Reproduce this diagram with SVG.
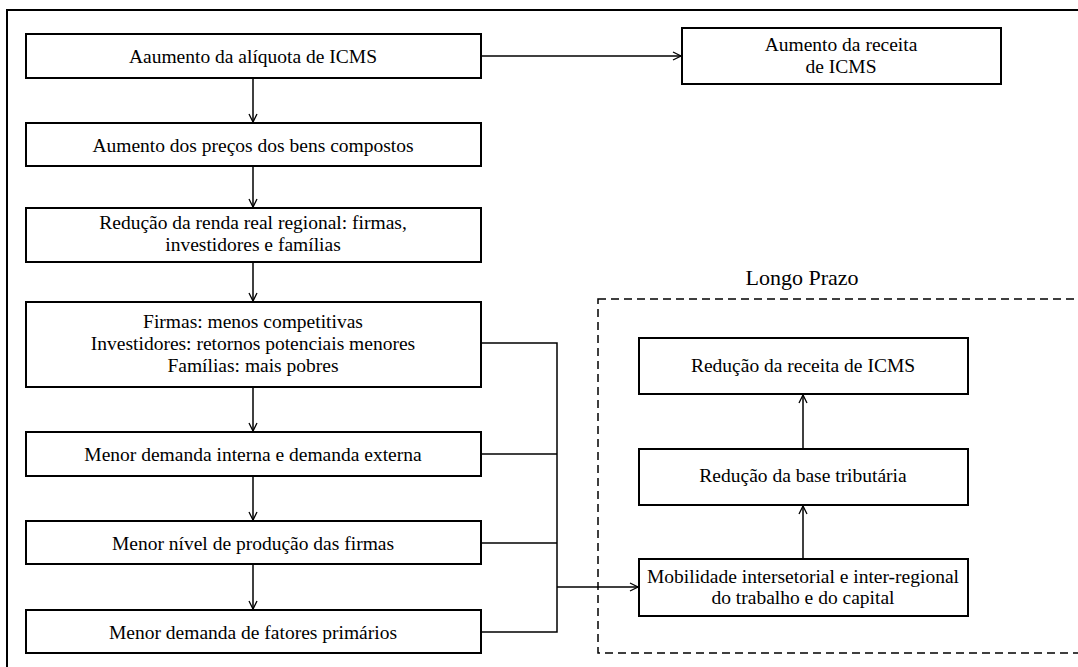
<svg xmlns="http://www.w3.org/2000/svg" width="1078" height="667" viewBox="0 0 1078 667">
<defs>
<marker id="arr" markerWidth="12" markerHeight="12" refX="9" refY="5" orient="auto" markerUnits="userSpaceOnUse">
<path d="M1,1 L9,5 L1,9" fill="none" stroke="#000" stroke-width="1.3"/>
</marker>
<style>
.box{fill:#fff;stroke:#000;stroke-width:2}
.t{font-family:"Liberation Serif","Times New Roman",serif;font-size:19.5px;fill:#000;text-anchor:middle}
.c{fill:none;stroke:#000;stroke-width:1.5}
</style>
</defs>
<rect x="0" y="0" width="1078" height="667" fill="#fff"/>
<rect x="7" y="10" width="1090" height="680" fill="none" stroke="#000" stroke-width="2"/>
<g id="longo-prazo">
<rect x="598" y="299" width="500" height="354" fill="none" stroke="#000" stroke-width="1.5" stroke-dasharray="8,5"/>
<text x="802" y="285" class="t" style="font-size:22px">Longo Prazo</text>
</g>
<g id="connectors">
<line x1="481" y1="56" x2="681" y2="56" class="c" marker-end="url(#arr)"/>
<line x1="253" y1="78" x2="253" y2="122" class="c" marker-end="url(#arr)"/>
<line x1="253" y1="166" x2="253" y2="207" class="c" marker-end="url(#arr)"/>
<line x1="253" y1="262" x2="253" y2="301" class="c" marker-end="url(#arr)"/>
<line x1="253" y1="387" x2="253" y2="431" class="c" marker-end="url(#arr)"/>
<line x1="253" y1="476" x2="253" y2="520" class="c" marker-end="url(#arr)"/>
<line x1="253" y1="564" x2="253" y2="609" class="c" marker-end="url(#arr)"/>
<polyline points="481,343 557,343 557,632 481,632" class="c"/>
<line x1="481" y1="454" x2="557" y2="454" class="c"/>
<line x1="481" y1="543" x2="557" y2="543" class="c"/>
<line x1="557" y1="587" x2="638" y2="587" class="c" marker-end="url(#arr)"/>
<line x1="803" y1="559" x2="803" y2="506" class="c" marker-end="url(#arr)"/>
<line x1="803" y1="449" x2="803" y2="395" class="c" marker-end="url(#arr)"/>
</g>
<g id="n1"><rect x="26" y="34" width="455" height="44" class="box"/><text x="253" y="63" class="t">Aaumento da alíquota de ICMS</text></g>
<g id="n2"><rect x="682" y="28" width="319" height="56" class="box"/><text x="841" y="51" class="t">Aumento da receita</text><text x="841" y="73" class="t">de ICMS</text></g>
<g id="n3"><rect x="26" y="123" width="455" height="43" class="box"/><text x="253" y="152" class="t">Aumento dos preços dos bens compostos</text></g>
<g id="n4"><rect x="26" y="208" width="455" height="54" class="box"/><text x="253" y="229" class="t">Redução da renda real regional: firmas,</text><text x="253" y="251" class="t">investidores e famílias</text></g>
<g id="n5"><rect x="26" y="302" width="455" height="85" class="box"/><text x="253" y="328" class="t">Firmas: menos competitivas</text><text x="253" y="350" class="t">Investidores: retornos potenciais menores</text><text x="253" y="372" class="t">Famílias: mais pobres</text></g>
<g id="n6"><rect x="26" y="432" width="455" height="44" class="box"/><text x="253" y="461" class="t">Menor demanda interna e demanda externa</text></g>
<g id="n7"><rect x="26" y="521" width="455" height="43" class="box"/><text x="253" y="550" class="t">Menor nível de produção das firmas</text></g>
<g id="n8"><rect x="26" y="610" width="455" height="43" class="box"/><text x="253" y="639" class="t">Menor demanda de fatores primários</text></g>
<g id="n9"><rect x="639" y="338" width="329" height="56" class="box"/><text x="803" y="372" class="t">Redução da receita de ICMS</text></g>
<g id="n10"><rect x="639" y="449" width="329" height="56" class="box"/><text x="803" y="482" class="t">Redução da base tributária</text></g>
<g id="n11"><rect x="639" y="559" width="329" height="57" class="box"/><text x="803" y="583" class="t">Mobilidade intersetorial e inter-regional</text><text x="803" y="604" class="t">do trabalho e do capital</text></g>
</svg>
